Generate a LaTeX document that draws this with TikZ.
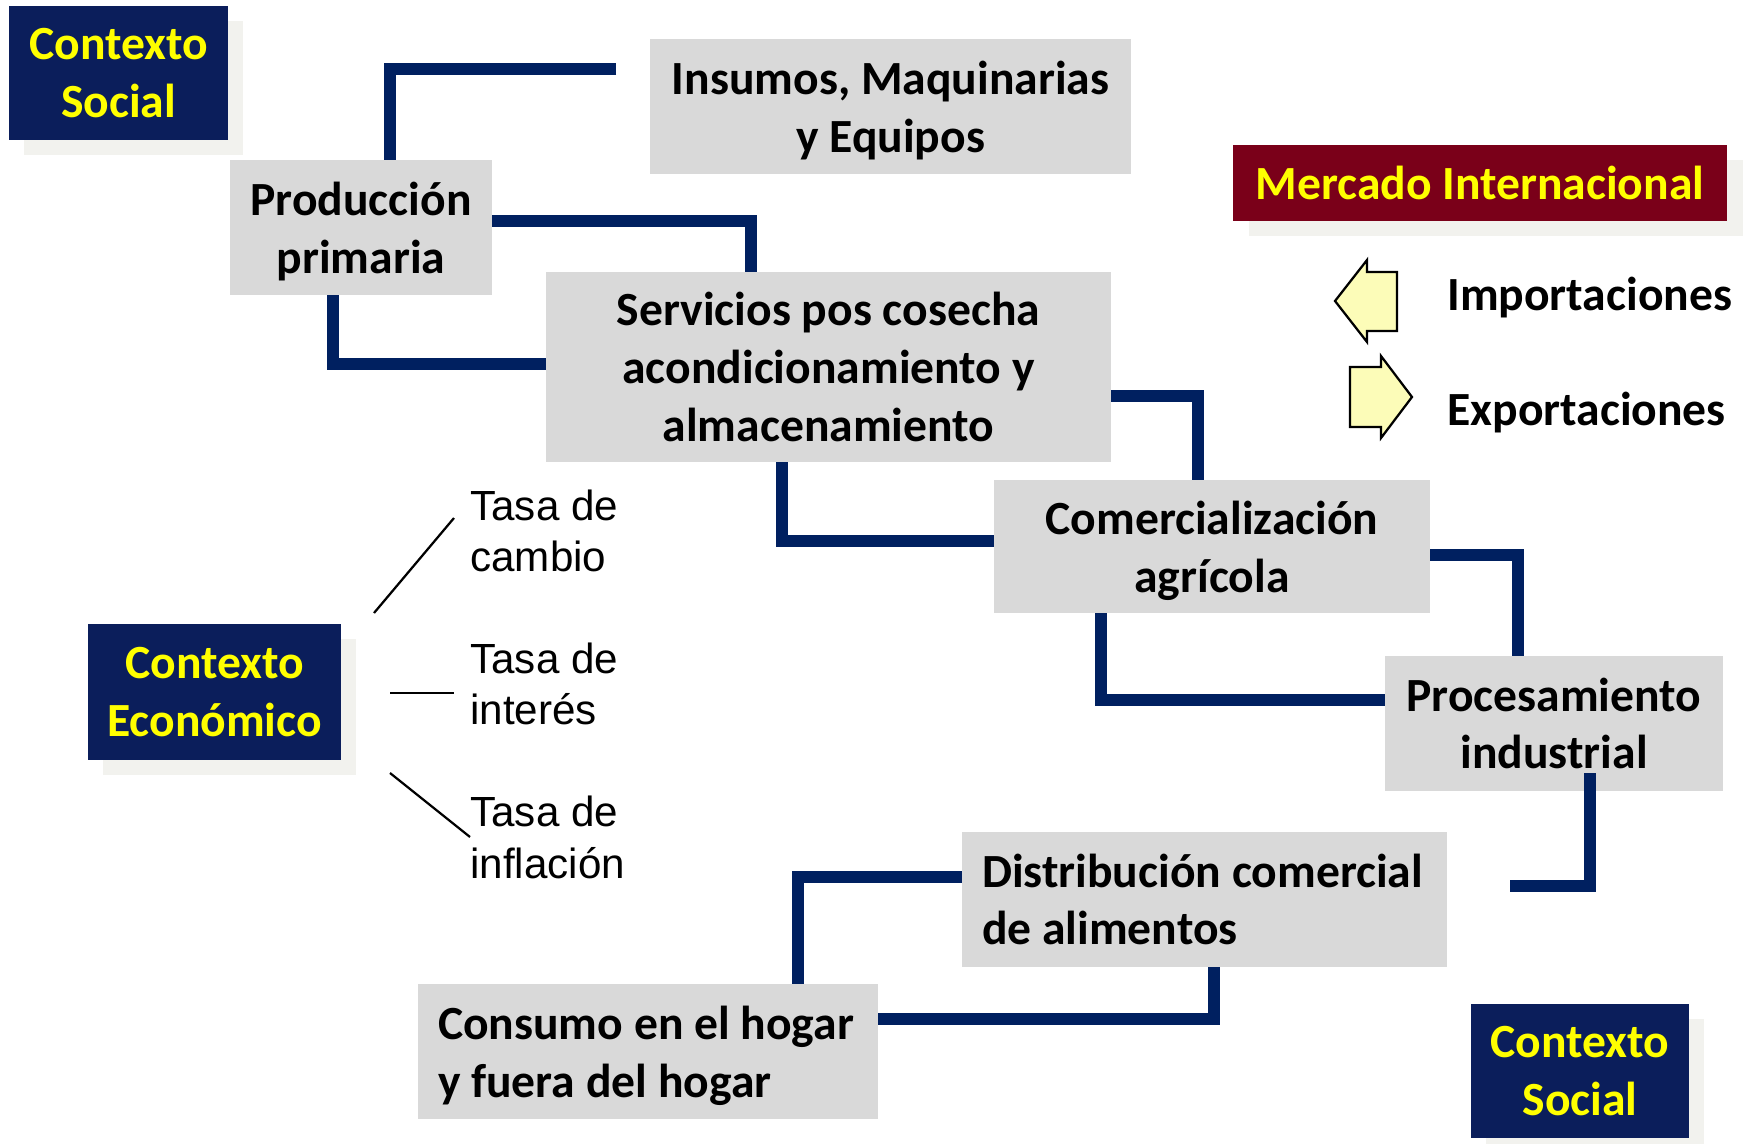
\documentclass[tikz,border=0pt]{standalone}
\usepackage{fontspec}
\setmainfont{Carlito}
\newfontfamily\arialf{Liberation Sans}
\usetikzlibrary{calc,shadows}
\definecolor{navybox}{HTML}{0B1E5B}
\definecolor{navyline}{HTML}{002060}
\definecolor{graybox}{HTML}{D9D9D9}
\definecolor{maroonbox}{HTML}{7A0019}
\definecolor{shadowc}{HTML}{F2F2EE}
\definecolor{arrowfill}{HTML}{FCFCB8}
\definecolor{yel}{HTML}{FFFF00}
\begin{document}
\begin{tikzpicture}[x=0.02cm,y=-0.02cm,
  bigfont/.style={font=\fontsize{27.1}{32.8}\selectfont\bfseries},
  box/.style={bigfont, fill=graybox, inner sep=0pt, align=center},
  ctxbox/.style={bigfont, fill=navybox, text=yel, inner sep=0pt, align=center,
    drop shadow={shadow xshift=0.3cm, shadow yshift=-0.3cm, fill=shadowc, opacity=1}},
  mktbox/.style={bigfont, fill=maroonbox, text=yel, inner sep=0pt, align=center,
    drop shadow={shadow xshift=0.32cm, shadow yshift=-0.3cm, fill=shadowc, opacity=1}},
  conn/.style={draw=navyline, line width=0.25cm},
  tasa/.style={font=\arialf\fontsize{24}{29.5}\selectfont, align=left, inner sep=0pt, anchor=west},
  thinline/.style={draw=black, line width=0.045cm},
  arrowshape/.style={draw=black, line width=0.045cm, fill=arrowfill, line join=miter}
]
\useasboundingbox[fill=white] (0,0) rectangle (1747,1143);

% context boxes
\node[ctxbox, minimum width=4.38cm, minimum height=2.68cm] (cs1) at (118.5,73) {Contexto\\Social};
\node[ctxbox, minimum width=5.06cm, minimum height=2.72cm] (ce) at (214.5,692) {Contexto\\Económico};
\node[ctxbox, minimum width=4.36cm, minimum height=2.68cm] (cs2) at (1580,1071) {Contexto\\Social};
\node[mktbox, minimum width=9.88cm, minimum height=1.52cm] (mer) at (1480,183) {Mercado Internacional};

% grey process boxes
\node[box, minimum width=9.62cm, minimum height=2.7cm] (ins) at (890.5,106.5) {Insumos, Maquinarias\\\smash{y Equipos}};
\node[box, minimum width=5.24cm, minimum height=2.7cm] (prod) at (361,227.5) {Producción\\\smash{primaria}};
\node[box, minimum width=11.3cm, minimum height=3.8cm] (serv) at (828.5,367) {Servicios pos cosecha\\acondicionamiento y\\almacenamiento};
\node[box, minimum width=8.72cm, minimum height=2.66cm] (com) at (1212,546.5) {Comercialización\\\smash{agrícola}};
\node[box, minimum width=6.76cm, minimum height=2.7cm] (proc) at (1554,723.5) {Procesamiento\\industrial};
\node[box, text width=8.9cm, align=flush left, minimum width=9.7cm, minimum height=2.7cm] (dist) at (1204.5,899.5) {Distribución comercial\\de alimentos};
\node[box, text width=8.4cm, align=flush left, minimum width=9.2cm, minimum height=2.7cm] (cons) at (648,1051.5) {Consumo en el hogar\\\smash{y fuera del hogar}};

% free ends
\coordinate (c1) at (616,69);
\coordinate (c8) at (1510,886);

% connectors
\draw[conn] (c1) -| (prod.north -| 390,0);
\draw[conn] (prod.east |- 0,221) -| (serv.north -| 751,0);
\draw[conn] (prod.south -| 333,0) |- (serv.west |- 0,364);
\draw[conn] (serv.east |- 0,396) -| (com.north -| 1198,0);
\draw[conn] (serv.south -| 782,0) |- (com.west |- 0,541);
\draw[conn] (com.east |- 0,555) -| (proc.north -| 1518,0);
\draw[conn] (com.south -| 1101,0) |- (proc.west |- 0,700);
\draw[conn] ($(proc.south -| 1590,0)+(0,-18)$) |- (c8);
\draw[conn] (dist.west |- 0,877) -| (cons.north -| 798,0);
\draw[conn] (dist.south -| 1214,0) |- (cons.east |- 0,1019);

% import / export arrows
\draw[arrowshape] (1335,301) -- (1367,260) -- (1367,272) -- (1397,272) -- (1397,331) -- (1367,331) -- (1367,342) -- cycle;
\draw[arrowshape] (1350,367) -- (1381,367) -- (1381,356) -- (1412,397) -- (1381,438) -- (1381,427) -- (1350,427) -- cycle;
\node[bigfont, anchor=base west, inner sep=0pt] (imp) at (1447,310) {Importaciones};
\node[bigfont, anchor=base west, inner sep=0pt] (exp) at (1447,425) {Exportaciones};

% economic factors
\node[tasa] (t1) at (470,531) {Tasa de\\cambio};
\node[tasa] (t2) at (470,684) {Tasa de\\interés};
\node[tasa] (t3) at (470,837.5) {Tasa de\\inflación};
\coordinate (l1a) at (374,613);
\coordinate (l1b) at (454,518);
\coordinate (l2a) at (390,693);
\coordinate (l2b) at (454,693);
\coordinate (l3a) at (390,773);
\coordinate (l3b) at (470,837);
\draw[thinline] (l1a) -- (l1b);
\draw[thinline] (l2a) -- (l2b);
\draw[thinline] (l3a) -- (l3b);
\end{tikzpicture}
\end{document}
